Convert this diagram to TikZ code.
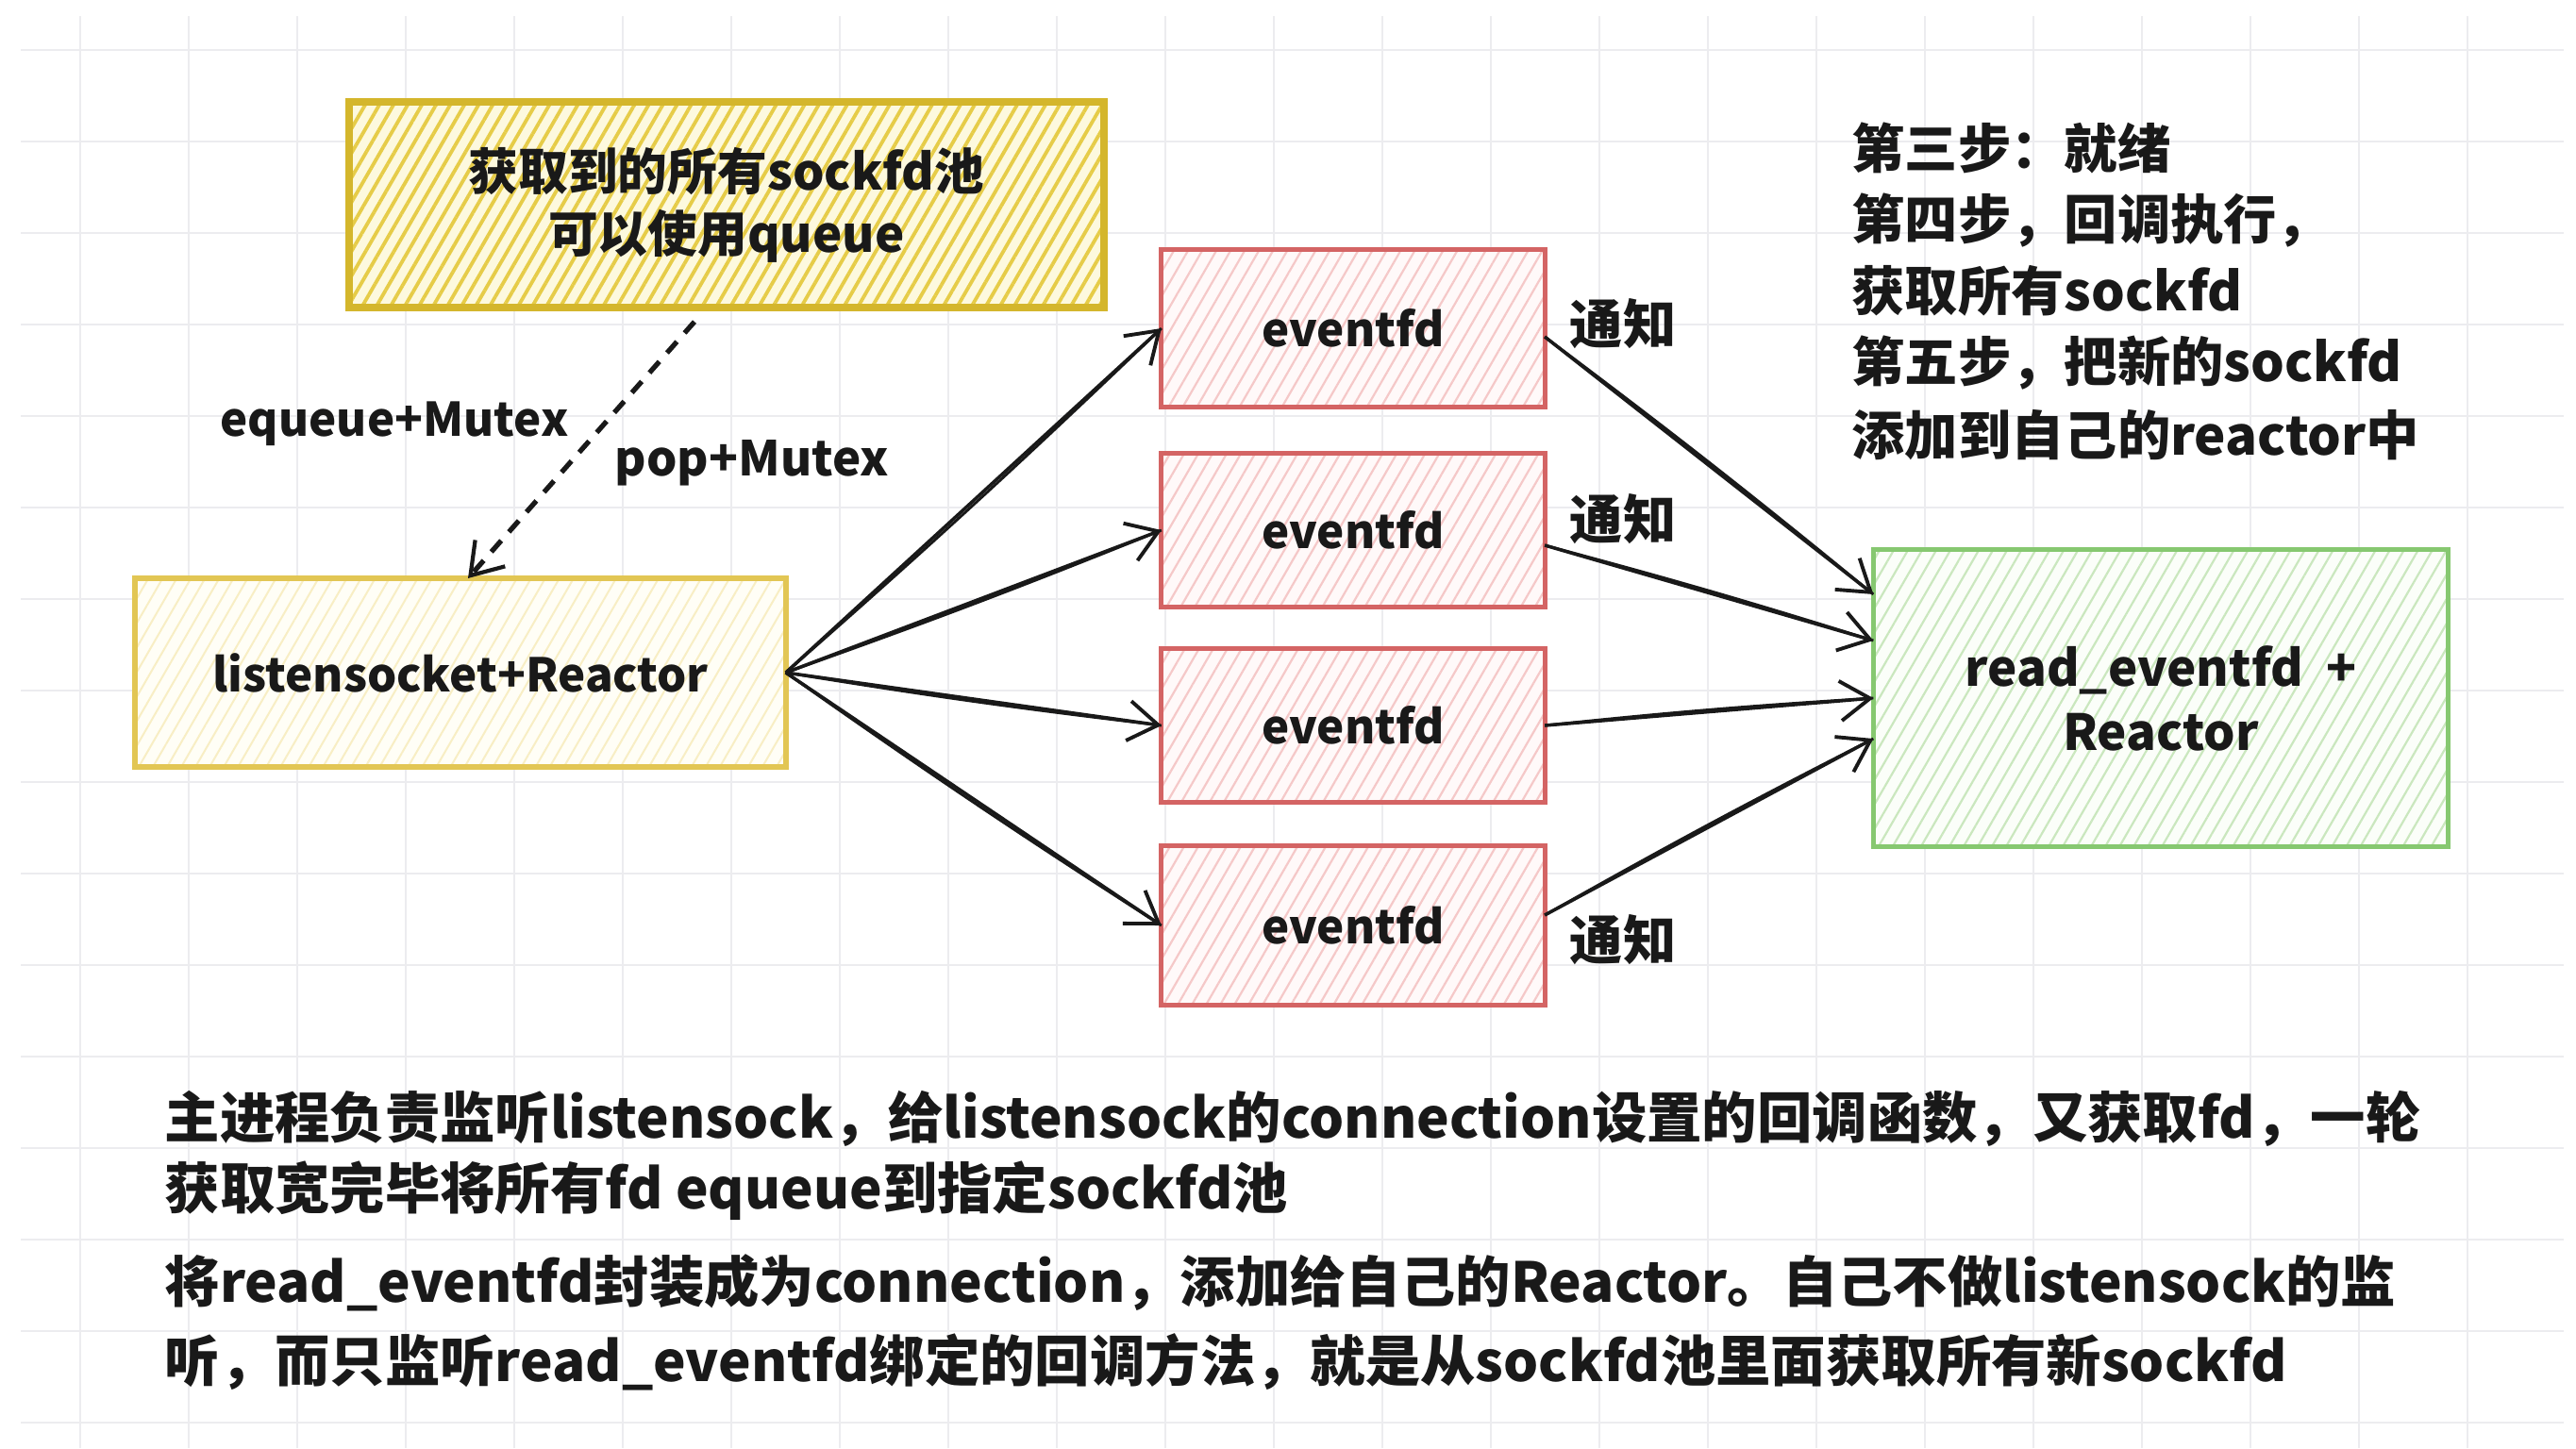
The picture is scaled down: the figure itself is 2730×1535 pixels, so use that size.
\documentclass[tikz,border=0pt]{standalone}
\usepackage{fontspec}
\setmainfont{Noto Sans CJK SC}
\usetikzlibrary{arrows.meta,patterns.meta}
\definecolor{gridc}{RGB}{236,236,239}
\definecolor{ybd}{RGB}{212,182,44}
\definecolor{yhatch}{RGB}{230,204,72}
\definecolor{ybg}{RGB}{253,249,222}
\definecolor{lbd}{RGB}{226,198,84}
\definecolor{lhatch}{RGB}{248,238,196}
\definecolor{lbg}{RGB}{255,254,246}
\definecolor{rbd}{RGB}{212,100,100}
\definecolor{rhatch}{RGB}{245,200,200}
\definecolor{rbg}{RGB}{255,249,249}
\definecolor{gbd}{RGB}{134,200,112}
\definecolor{ghatch}{RGB}{202,231,190}
\definecolor{gbg}{RGB}{251,254,249}
\definecolor{ink}{RGB}{25,25,25}
\begin{document}
\begin{tikzpicture}[x=0.01cm,y=-0.01cm,
  box/.style={rectangle,inner sep=0pt,outer sep=0pt,align=center,text=ink},
  hatch/.style 2 args={preaction={fill=#2},pattern={Lines[angle=60,distance=1.3mm,line width=#1]}},
  lab/.style={inner sep=0pt,text=ink,font=\fontsize{14}{17}\selectfont\bfseries},
  para/.style={inner sep=0pt,anchor=base west,text=ink,font=\fontsize{16.6}{20}\selectfont\bfseries},
  steptxt/.style={inner sep=0pt,anchor=base west,text=ink,font=\fontsize{16}{20}\selectfont\bfseries},
  arr/.style={draw=ink,line width=1pt,-{Straight Barb[length=9pt,width=12pt,line width=1.1pt]}},
  skline/.style={draw=ink,line width=0.8pt}
]
% background and grid
\fill[white] (0,0) rectangle (2730,1535);
\foreach \i in {0,...,22} \draw[gridc,line width=0.5pt] ({85+115*\i},17) -- ({85+115*\i},1535);
\foreach \j in {0,...,15} \draw[gridc,line width=0.5pt] (22,{53+97*\j}) -- (2717,{53+97*\j});

% boxes
\node[box,draw=ybd,line width=2.2pt,hatch={0.38mm}{ybg},pattern color=yhatch,
  minimum width=7.99cm,minimum height=2.18cm,
  font=\fontsize{15}{18.8}\selectfont\bfseries] (T) at (770,217) {获取到的所有sockfd池\\可以使用queue};
\node[box,draw=lbd,line width=1.6pt,hatch={0.2mm}{lbg},pattern color=lhatch,
  minimum width=6.89cm,minimum height=2.0cm,
  font=\fontsize{14}{17}\selectfont\bfseries] (L) at (488,713) {listensocket+Reactor};
\foreach \n/\y/\h in {E1/348/1.67,E2/562/1.63,E3/769/1.63,E4/981/1.69}
  \node[box,draw=rbd,line width=1.4pt,hatch={0.22mm}{rbg},pattern color=rhatch,
    minimum width=4.06cm,minimum height=\h cm,
    font=\fontsize{14}{17}\selectfont\bfseries] (\n) at (1434,\y) {eventfd};
\node[box,draw=gbd,line width=1.4pt,hatch={0.22mm}{gbg},pattern color=ghatch,
  minimum width=6.09cm,minimum height=3.14cm,
  font=\fontsize{15}{19.3}\selectfont\bfseries] (G) at (2290,740) {read\_eventfd~~+\\Reactor};

% dashed arrow
\coordinate (dA) at ([xshift=-0.34cm,yshift=-0.15cm]T.south);
\coordinate (dB) at ([xshift=0.08cm]L.north);
\draw[ink,line width=1.5pt,dash pattern=on 4.5pt off 3.5pt,
  -{Straight Barb[length=9pt,width=12pt,line width=1.2pt]}] (dA) -- (dB);

% arrows listen -> eventfd
\foreach \e in {E1,E2,E3,E4}{
  \draw[arr] (L.east) -- (\e.west);
  \draw[skline] (L.east) to[bend right=1.2] (\e.west);
}

% arrows eventfd -> green
\coordinate (s1) at ([yshift=-0.09cm]E1.east);
\coordinate (s2) at ([yshift=-0.16cm]E2.east);
\coordinate (s3) at (E3.east);
\coordinate (s4) at ([yshift=0.11cm]E4.east);
\coordinate (g1) at ([yshift=1.10cm]G.west);
\coordinate (g2) at ([yshift=0.61cm]G.west);
\coordinate (g3) at (G.west);
\coordinate (g4) at ([yshift=-0.43cm]G.west);
\foreach \a/\b in {s1/g1,s2/g2,s3/g3,s4/g4}{
  \draw[arr] (\a) -- (\b);
  \draw[skline] (\a) to[bend left=1.2] (\b);
}

% labels
\node[lab] (l1) at (418,449) {equeue+Mutex};
\node[lab,font=\fontsize{14.5}{17}\selectfont\bfseries] (l2) at (797,491) {pop+Mutex};
\node[lab,font=\fontsize{16}{19}\selectfont\bfseries] (n1) at (1720,343) {通知};
\node[lab,font=\fontsize{16}{19}\selectfont\bfseries] (n2) at (1720,550) {通知};
\node[lab,font=\fontsize{16}{19}\selectfont\bfseries] (n3) at (1720,996) {通知};

% step text
\node[steptxt] (t1) at (1962,178) {第三步：就绪};
\node[steptxt] (t2) at (1962,253) {第四步，回调执行，};
\node[steptxt] (t3) at (1962,329) {获取所有sockfd};
\node[steptxt] (t4) at (1962,404) {第五步，把新的sockfd};
\node[steptxt] (t5) at (1962,482) {添加到自己的reactor中};

% bottom text
\node[para] (p1) at (174,1206) {主进程负责监听listensock，给listensock的connection设置的回调函数，又获取fd，一轮};
\node[para] (p2) at (174,1281) {获取宽完毕将所有fd equeue到指定sockfd池};
\node[para] (p3) at (174,1380) {将read\_eventfd封装成为connection，添加给自己的Reactor。自己不做listensock的监};
\node[para] (p4) at (174,1464) {听，而只监听read\_eventfd绑定的回调方法，就是从sockfd池里面获取所有新sockfd};
\end{tikzpicture}
\end{document}
